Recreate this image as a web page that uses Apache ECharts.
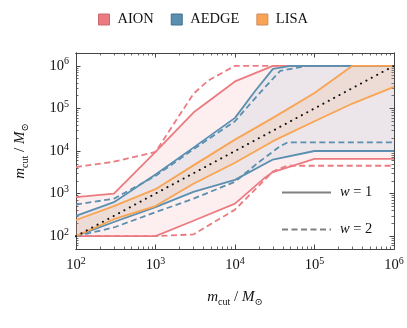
<!DOCTYPE html>
<html>
<head>
<meta charset="utf-8">
<script src="https://cdn.jsdelivr.net/npm/echarts@6/dist/echarts.min.js"></script>
<style>
html, body { margin: 0; padding: 0; background: #fff; }
#chartDom { width: 407px; height: 328px; }
</style>
</head>
<body>
<div id="chartDom"></div>
<script>
// curves, [m_cut, value] pairs in solar masses
// w = 1 is the solid line, w = 2 the dashed one
var aionHi1 = [[1e2, 830], [3e2, 1000], [1e3, 9500], [3e3, 8e4], [1e4, 4.3e5], [3e4, 1e6], [1e6, 1e6]];
var aionLo1 = [[1e2, 100], [1e3, 100], [3e3, 230], [1e4, 580], [2.4e4, 2400], [3e4, 3200], [1e5, 6500], [1e6, 6500]];
var aionHi2 = [[1e2, 4200], [3e2, 5600], [1e3, 9500], [3e3, 2.2e5], [4.6e3, 4.5e5], [1e4, 1e6], [1e6, 1e6]];
var aionLo2 = [[1e2, 100], [1e3, 100], [3e3, 110], [1e4, 420], [3e4, 3300], [4.5e4, 4500], [1e6, 4500]];

var aedgeHi1 = [[1e2, 300], [3e2, 630], [1e3, 2800], [3e3, 1.2e4], [1e4, 6e4], [1.8e4, 2.6e5], [3e4, 8.5e5], [5e4, 1e6], [1e6, 1e6]];
var aedgeLo1 = [[1e2, 100], [3e2, 215], [1e3, 480], [3e3, 1100], [1e4, 2100], [3e4, 6300], [1e5, 1e4], [1e6, 1e4]];
var aedgeHi2 = [[1e2, 550], [3e2, 760], [1e3, 2600], [3e3, 1.1e4], [1e4, 5e4], [2e4, 2.2e5], [3.7e4, 7.6e5], [8e4, 1e6], [1e6, 1e6]];
var aedgeLo2 = [[1e2, 100], [3e2, 160], [1e3, 365], [3e3, 760], [1e4, 1900], [2e4, 5500], [3.7e4, 1.3e4], [4.6e4, 1.6e4], [1e6, 1.6e4]];

var lisaHi = [[1e2, 240], [3e2, 510], [1e3, 1270], [3e3, 4600], [1e4, 1.85e4], [3e4, 6e4], [1e5, 2.3e5], [3e5, 1e6], [1e6, 1e6]];
var lisaLo = [[1e2, 100], [3e2, 250], [1e3, 510], [3e3, 1700], [1e4, 5300], [3e4, 1.7e4], [1e5, 5e4], [3e5, 1.3e5], [1e6, 3.2e5]];

var diagonal = [[1e2, 1e2], [1e6, 1e6]];

var xMajor = [1e2, 1e3, 1e4, 1e5, 1e6];
var yMajor = [1e2, 1e3, 1e4, 1e5, 1e6];

var colors = { AION: '#eb7b81', AEDGE: '#5b8fb0', LISA: '#f9a452' };
var edges = { AION: '#c96a70', AEDGE: '#44708c', LISA: '#d08a62' };
var serif = "'Liberation Serif', 'DejaVu Serif', serif";
var axisColor = '#444';

function minorTicks(lo, hi) {
    var out = [];
    for (var e = lo; e < hi; e++) {
        for (var k = 2; k < 10; k++) out.push(k * Math.pow(10, e));
    }
    return out;
}
var xMinor = minorTicks(2, 6);
var yMinor = [60, 70, 80, 90].concat(minorTicks(2, 6));

function band(name, hi, lo, opacity) {
    return {
        type: 'custom',
        name: name,
        data: [[1e3, 1e3]],
        silent: true,
        z: 1,
        itemStyle: { color: colors[name] },
        renderItem: function (params, api) {
            var pts = hi.map(function (p) { return api.coord(p); });
            var back = lo.slice().reverse().map(function (p) { return api.coord(p); });
            return {
                type: 'polygon',
                shape: { points: pts.concat(back) },
                style: { fill: colors[name], opacity: opacity }
            };
        }
    };
}

function curve(name, data, color, dashed, z) {
    return {
        type: 'line',
        name: name,
        data: data,
        symbol: 'none',
        silent: true,
        z: z,
        lineStyle: { color: color, width: 1.8, type: dashed ? [6, 3.5] : 'solid' }
    };
}

var supRich = {
    b: { fontFamily: serif, fontSize: 14.5, color: '#111', lineHeight: 18 },
    s: { fontFamily: serif, fontSize: 10, color: '#111', verticalAlign: 'top', lineHeight: 10 }
};
var nameRich = {
    i: { fontFamily: serif, fontSize: 15, fontStyle: 'italic', color: '#111', lineHeight: 20 },
    r: { fontFamily: serif, fontSize: 15, color: '#111', lineHeight: 20 },
    s: { fontFamily: serif, fontSize: 10, color: '#111', verticalAlign: 'bottom', lineHeight: 12 }
};
var axisName = '{i|m}{s|cut}{r| / }{i|M}{s|\u2299}';

function powLabel(v) {
    return '{b|10}{s|' + Math.round(Math.log10(v)) + '}';
}

function axis(dim, pos, major, showLabel) {
    var a = {
        type: 'log',
        logBase: 10,
        position: pos,
        min: dim === 'x' ? 1e2 : 50,
        max: dim === 'x' ? 1e6 : 2e6,
        axisLine: { show: true, lineStyle: { color: axisColor, width: 1 } },
        axisTick: {
            show: true, inside: true,
            length: major ? 4.5 : 2.5,
            customValues: major ? (dim === 'x' ? xMajor : yMajor) : (dim === 'x' ? xMinor : yMinor),
            lineStyle: { color: axisColor, width: major ? 1 : 0.8 }
        },
        axisLabel: { show: false },
        splitLine: { show: false },
        minorTick: { show: false }
    };
    if (showLabel) {
        a.axisLabel = {
            show: true,
            margin: 7,
            customValues: dim === 'x' ? xMajor : yMajor,
            formatter: powLabel,
            rich: supRich
        };
        a.name = axisName;
        a.nameLocation = 'middle';
        a.nameGap = dim === 'x' ? 38 : 46;
        a.nameTextStyle = { rich: nameRich };
    }
    return a;
}

var chartDom = echarts.init(document.getElementById('chartDom'), null, { renderer: 'canvas' });

chartDom.setOption({
    animation: false,
    backgroundColor: '#fff',
    grid: { left: 76, right: 13, top: 53, bottom: 79 },
    legend: [{
        data: ['AION', 'AEDGE', 'LISA'].map(function (n) {
            return { name: n, icon: 'rect', itemStyle: { color: colors[n], borderColor: edges[n], borderWidth: 1, opacity: 1 } };
        }),
        left: 93, top: 7,
        itemWidth: 11, itemHeight: 11, itemGap: 17,
        selectedMode: false,
        textStyle: { fontFamily: serif, fontSize: 14.5, color: '#111', padding: [0, 0, 0, 3] }
    }, {
        data: [
            { name: 'w1', itemStyle: { opacity: 0 } },
            { name: 'w2', itemStyle: { opacity: 0 } }
        ],
        orient: 'vertical',
        left: 276, top: 180,
        itemWidth: 49, itemHeight: 14, itemGap: 22,
        selectedMode: false,
        formatter: function (n) { return n === 'w1' ? '{i|w} = 1' : '{i|w} = 2'; },
        textStyle: {
            fontFamily: serif, fontSize: 14.5, color: '#111', padding: [0, 0, 0, 4],
            rich: { i: { fontFamily: serif, fontSize: 14.5, fontStyle: 'italic', color: '#111' } }
        }
    }],
    xAxis: [axis('x', 'bottom', true, true), axis('x', 'bottom', false, false),
            axis('x', 'top', true, false), axis('x', 'top', false, false)],
    yAxis: [axis('y', 'left', true, true), axis('y', 'left', false, false),
            axis('y', 'right', true, false), axis('y', 'right', false, false)],
    series: [
        band('AION', aionHi1, aionLo1, 0.12),
        band('AEDGE', aedgeHi1, aedgeLo1, 0.1),
        band('LISA', lisaHi, lisaLo, 0.13),
        curve('aion-w2-hi', aionHi2, colors.AION, true, 3),
        curve('aion-w2-lo', aionLo2, colors.AION, true, 3),
        curve('aion-w1-hi', aionHi1, colors.AION, false, 4),
        curve('aion-w1-lo', aionLo1, colors.AION, false, 4),
        curve('aedge-w2-hi', aedgeHi2, colors.AEDGE, true, 5),
        curve('aedge-w2-lo', aedgeLo2, colors.AEDGE, true, 5),
        curve('aedge-w1-hi', aedgeHi1, colors.AEDGE, false, 6),
        curve('aedge-w1-lo', aedgeLo1, colors.AEDGE, false, 6),
        curve('lisa-hi', lisaHi, colors.LISA, false, 7),
        curve('lisa-lo', lisaLo, colors.LISA, false, 7),
        {
            type: 'line', name: 'diag', data: diagonal, symbol: 'none', silent: true, z: 8,
            lineStyle: { color: '#111', width: 2, type: [0.1, 6], cap: 'round' }
        },
        { type: 'line', name: 'w1', data: [], symbol: 'none', itemStyle: { color: '#808080' },
          lineStyle: { color: '#808080', width: 1.8, type: 'solid' } },
        { type: 'line', name: 'w2', data: [], symbol: 'none', itemStyle: { color: '#808080' },
          lineStyle: { color: '#808080', width: 1.8, type: [6, 3.5] } }
    ]
});
</script>
</body>
</html>
